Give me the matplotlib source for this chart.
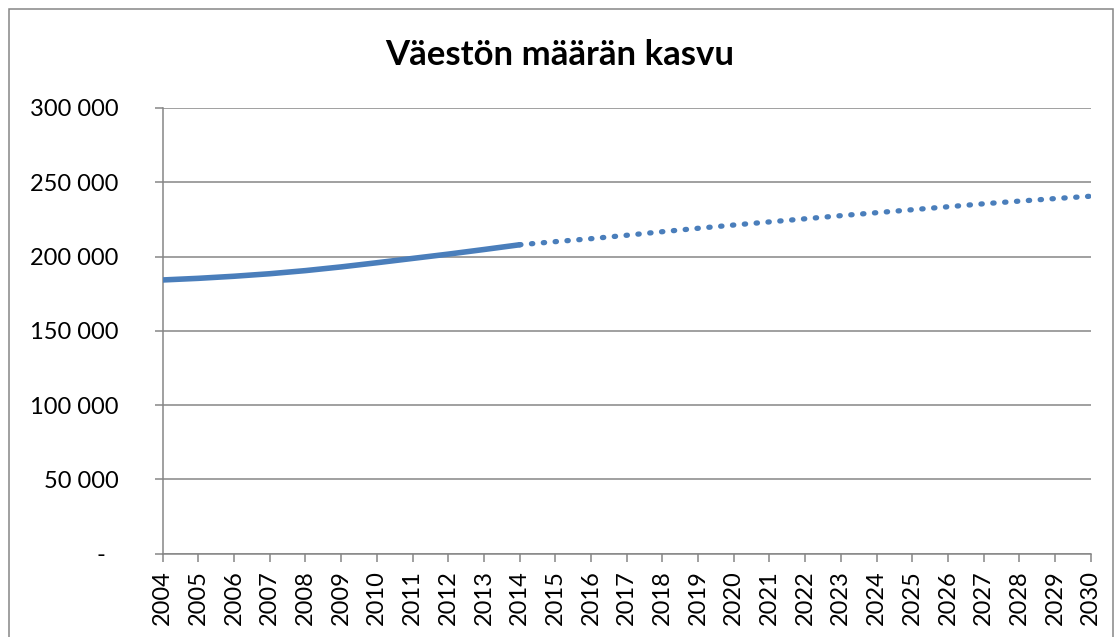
import matplotlib
matplotlib.use("Agg")
import matplotlib.pyplot as plt
from matplotlib.patches import Rectangle
from matplotlib.ticker import FuncFormatter, MultipleLocator

title = "Väestön määrän kasvu"
years_hist = [2004, 2005, 2006, 2007, 2008, 2009, 2010, 2011, 2012, 2013, 2014]
pop_hist = [184200, 185300, 186700, 188400, 190500, 193000, 195800, 198700, 201600, 204700, 207900]
years_proj = [2014, 2015, 2016, 2017, 2018, 2019, 2020, 2021, 2022, 2023, 2024,
              2025, 2026, 2027, 2028, 2029, 2030]
pop_proj = [207900, 210000, 212000, 214300, 216700, 219000, 221200, 223300, 225400,
            227500, 229500, 231500, 233500, 235500, 237300, 239000, 240600]

plt.rcParams['font.family'] = ['Lato', 'DejaVu Sans']

W, H = 1120, 637
fig = plt.figure(figsize=(W / 100, H / 100), dpi=100)
fig.patch.set_facecolor('white')

# outer chart border
fig.patches.append(Rectangle((9 / W, -0.05), (1113 - 9) / W, 1.05 - 9 / H,
                             transform=fig.transFigure, fill=False,
                             edgecolor='#868686', linewidth=1.1))

ax = fig.add_axes([162.7 / W, 1 - 553.5 / H, (1090.7 - 162.7) / W, (553.5 - 108) / H])
grey = '#868686'
blue = '#4A7EBB'

ax.plot(years_hist, pop_hist, color=blue, linewidth=4.0, solid_capstyle='round', zorder=3)
ax.plot(years_proj, pop_proj, color=blue, linewidth=3.8, dash_capstyle='round',
        linestyle=(0, (0.25, 2.0)), zorder=3)

ax.set_xlim(2004, 2030)
ax.set_ylim(0, 300000)
ax.set_xticks(list(range(2004, 2031)))
ax.yaxis.set_major_locator(MultipleLocator(50000))


def yfmt(v, pos):
    if v == 0:
        return "-  "
    return f"{int(v):,}".replace(",", " ")


ax.yaxis.set_major_formatter(FuncFormatter(yfmt))
ax.grid(axis='y', color=grey, linewidth=1.1)
ax.set_axisbelow(True)
for s in ['top', 'right']:
    ax.spines[s].set_visible(False)
for s in ['left', 'bottom']:
    ax.spines[s].set_color(grey)
    ax.spines[s].set_linewidth(1.1)

ax.tick_params(axis='x', direction='out', length=6, width=1.1, color=grey,
               labelsize=17, rotation=90, pad=6)
ax.tick_params(axis='y', direction='out', length=6, width=1.1, color=grey,
               labelsize=17, pad=26)

fig.text(0.5, 1 - 55 / H, title, ha='center', va='center', fontsize=25, fontweight='bold')

fig.savefig('out.png', dpi=100)
